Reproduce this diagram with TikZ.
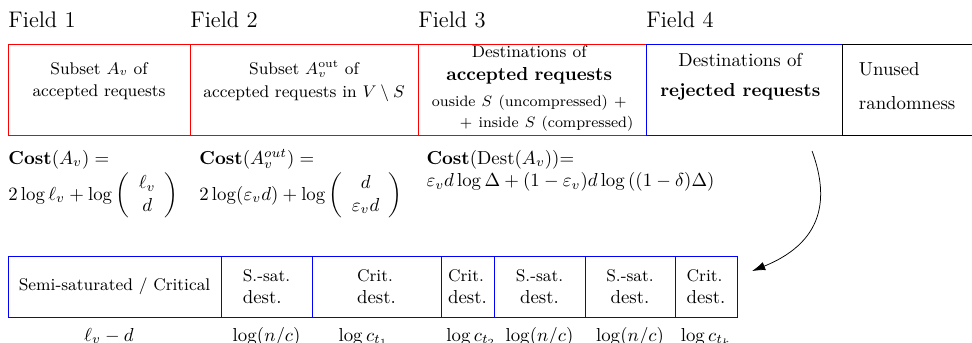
\documentclass[tikz,border=0pt]{standalone}
\usepackage{amsmath}
\usepackage{amssymb}
\usepackage{tikz}
\usepackage{xcolor}
\usetikzlibrary{positioning,arrows.meta}
\tikzset{
    field-box/.style = {draw=red, thin, rectangle, outer sep=0pt, inner sep=0pt, minimum height=48.4pt},
    field-label/.style = {inner sep=0pt, font=\large},
    field-text/.style = {align=center, inner sep=0pt},
    cost-text/.style = {align=left, inner sep=0pt, anchor=north west},
    dest-box/.style = {draw=blue, thin, rectangle, outer sep=0pt, inner sep=2pt, minimum height=32.5pt, align=center},
    dest-label/.style = {anchor=base, inner sep=0pt},
}

\begin{document}
\begin{tikzpicture}
\useasboundingbox (0,0) rectangle (517.1pt,-182.4pt);
% fields of the encoding
\node [field-box, minimum width=96.8pt, anchor=north west] (f1) at (4.3pt,-23.4pt) {};
\node [field-box, minimum width=121.3pt, right=0pt of f1] (f2) {};
\node [field-box, minimum width=121.3pt, right=0pt of f2] (f3) {};
\node [field-box, draw=blue, minimum width=104.3pt, right=0pt of f3] (f4) {};
\node [field-box, draw=none, minimum width=69.2pt, right=0pt of f4] (f5) {};
\draw (f5.north east) -- (f5.north west) -- (f5.south west) -- (f5.south east);

\node [field-label, above right=8.4pt and 0pt of f1.north west] (l1) {Field 1};
\node [field-label, above right=8.4pt and 0pt of f2.north west] (l2) {Field 2};
\node [field-label, above right=8.4pt and 0pt of f3.north west] (l3) {Field 3};
\node [field-label, above right=8.4pt and 0pt of f4.north west] (l4) {Field 4};

\node [field-text, font=\small] (t1) at ([yshift=4.5pt]f1.center) {Subset $A_v$ of\\[1pt]accepted requests};
\node [field-text, font=\small] (t2) at ([yshift=4.5pt]f2.center) {Subset $A_v^{\mathrm{out}}$ of\\[1pt]accepted requests in $V\setminus S$};
\node [field-text, text width=110.7pt] (t3) at ([xshift=-1.5pt,yshift=0.5pt]f3.center) {{\small Destinations of}\\ \textbf{accepted requests}\\[2pt] {\footnotesize ouside $S$ (uncompressed) +}\hfill\\[-1pt] \hfill{\footnotesize + inside $S$ (compressed)}};
\node [field-text] (t4) at ([xshift=-2pt,yshift=6.6pt]f4.center) {Destinations of\\[4pt]\textbf{rejected requests}};
\node [field-text, align=left] (t5) at ([yshift=2pt]f5.center) {Unused\\[6pt]randomness};

% costs
\node [cost-text, below right=6.9pt and 0pt of f1.south west] (c1) {\strut$\mathbf{Cost}(A_v) =$\\ $2\log\ell_v + \log\left(\begin{array}{c}\ell_v\\ d\end{array}\right)$};
\node [cost-text, below right=6.9pt and 4.8pt of f2.south west] (c2) {\strut$\mathbf{Cost}(A_v^{out}) =$\\ $2\log(\varepsilon_v d) + \log\left(\begin{array}{c}d\\ \varepsilon_v d\end{array}\right)$};
\node [cost-text, below right=6.9pt and 4.3pt of f3.south west] (c3) {\strut$\mathbf{Cost}(\mathrm{Dest}(A_v))$=\\ $\varepsilon_v d\log\Delta + (1-\varepsilon_v)d\log\left((1-\delta)\Delta\right)$};

% destinations
\node [dest-box, minimum width=113.3pt, anchor=north west] (b1) at (4.3pt,-136.2pt) {\small Semi-saturated / Critical};
\node [dest-box, minimum width=48.4pt, right=0pt of b1, align=left] (b2) {{\small S.-sat.}\\dest.};
\node [dest-box, minimum width=68.6pt, right=0pt of b2, align=left] (b3) {{\small Crit.}\\dest.};
\node [dest-box, minimum width=28.2pt, right=0pt of b3, align=left] (b4) {{\small Crit.}\\dest.};
\node [dest-box, minimum width=48.4pt, right=0pt of b4] (b5) {{\small S.-sat.}\\dest.};
\node [dest-box, minimum width=47.9pt, right=0pt of b5] (b6) {{\small S.-sat.}\\dest.};
\node [dest-box, minimum width=33pt, right=0pt of b6, align=left] (b7) {{\small Crit.}\\dest.};

\node [dest-label, xshift=-3pt] (n1) at ([yshift=-12.8pt]b1.south) {$\ell_v - d$};
\node [dest-label] (n2) at ([yshift=-12.8pt]b2.south) {$\log(n/c)$};
\node [dest-label, xshift=-7pt] (n3) at ([yshift=-12.8pt]b3.south) {$\log c_{t_1}$};
\node [dest-label, xshift=2pt] (n4) at ([yshift=-12.8pt]b4.south) {$\log c_{t_2}$};
\node [dest-label] (n5) at ([yshift=-12.8pt]b5.south) {$\log(n/c)$};
\node [dest-label] (n6) at ([yshift=-12.8pt]b6.south) {$\log(n/c)$};
\node [dest-label] (n7) at ([yshift=-12.8pt]b7.south) {$\log c_{t_k}$};

\coordinate (arr-from) at ([xshift=-16pt,yshift=-8.5pt]f4.south east);
\coordinate (arr-to) at ([xshift=8pt,yshift=-8pt]b7.north east);
\draw [-{Latex[length=7pt,width=4.5pt]}] (arr-from) to [out=-70, in=22, out looseness=0.8, in looseness=1.6] (arr-to);
\end{tikzpicture}
\end{document}
